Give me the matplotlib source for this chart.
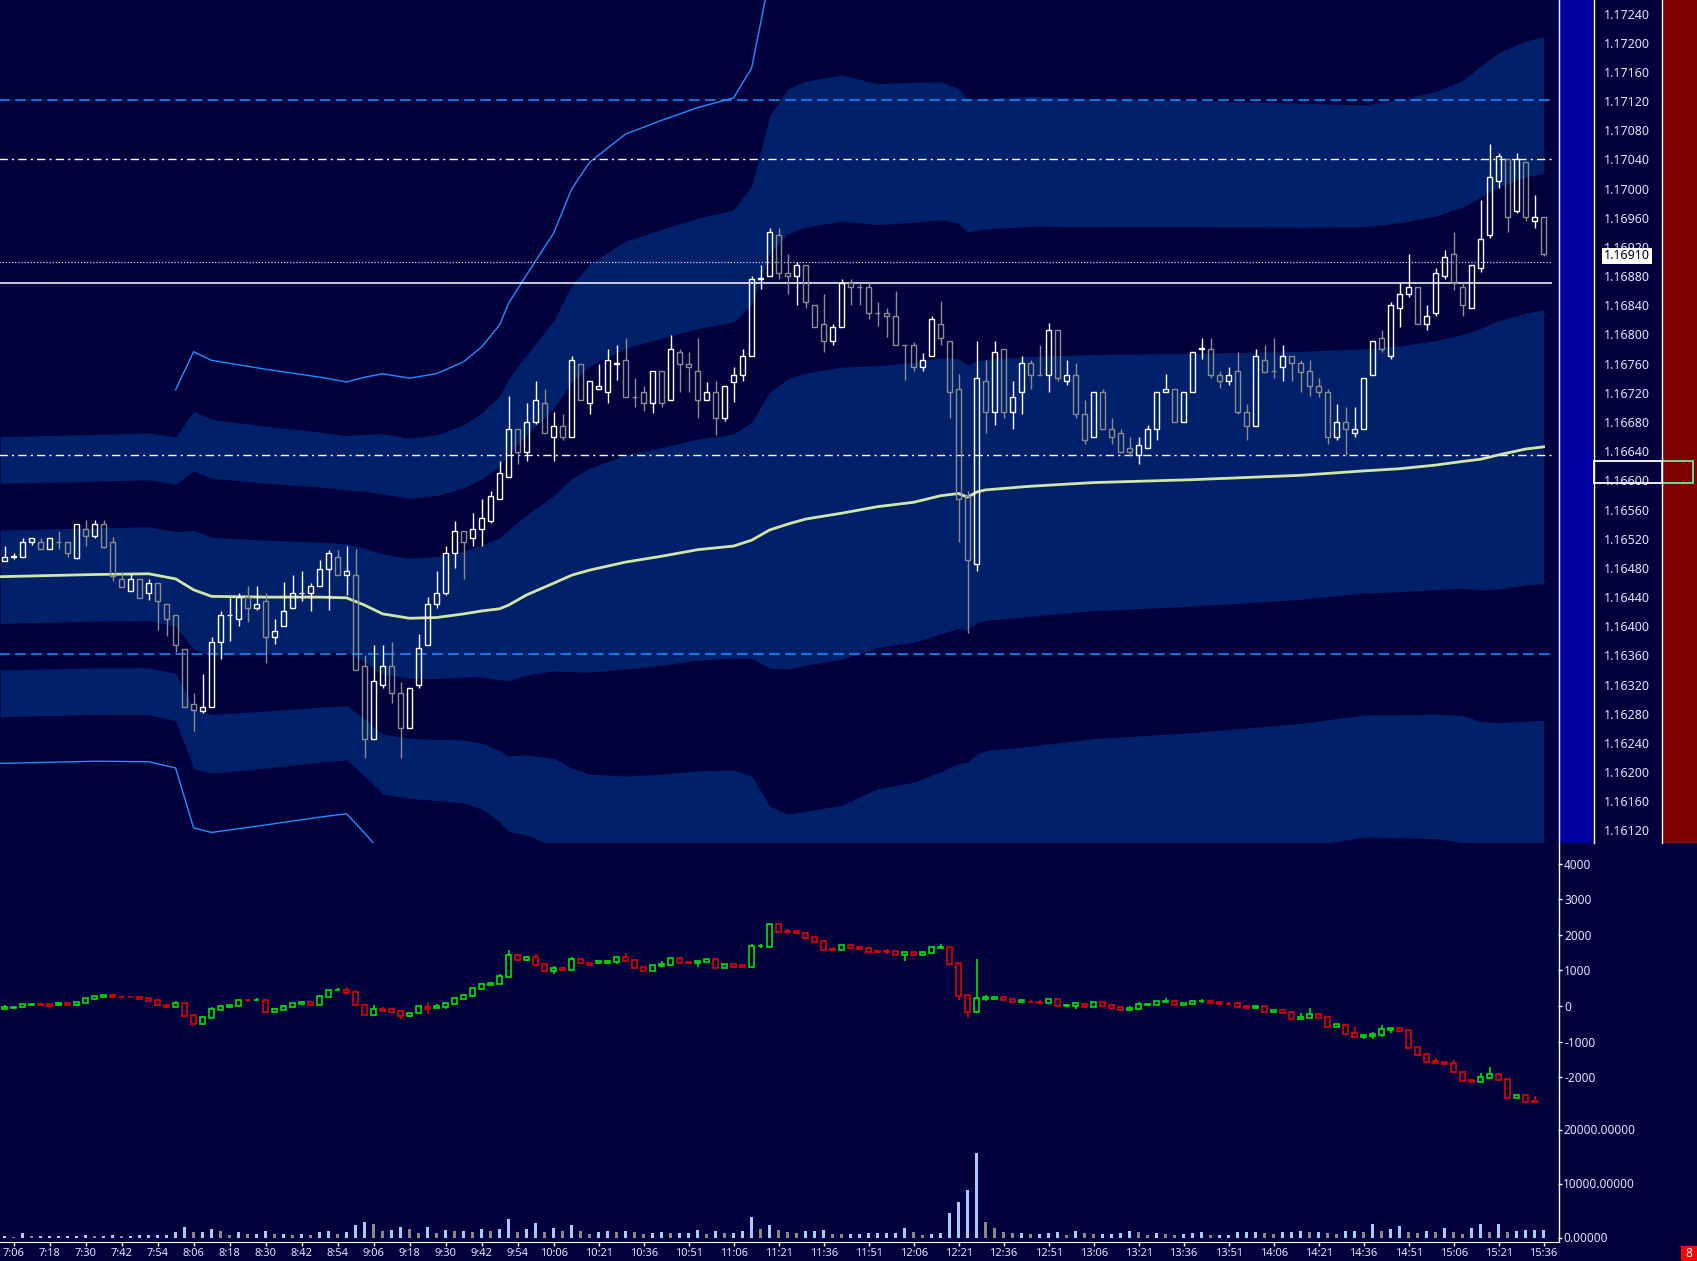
import numpy as np
import matplotlib
matplotlib.use("Agg")
from matplotlib import pyplot as plt
from matplotlib.patches import Rectangle
from matplotlib.lines import Line2D
from matplotlib.transforms import Bbox, TransformedBbox

plt.rcParams['font.family'] = ['Noto Sans', 'DejaVu Sans']

W, H = 1697, 1261
BG = '#00003c'
BAND = '#00206a'
TXT = '#dce6ff'

# 3 minute bars, bar 0 = 7:06 (bar -1 = 7:03)
bars = np.arange(-1, 171)

open_ = [1.16492, 1.16497, 1.16497, 1.16517, 1.16517, 1.16508, 1.16517, 1.16517, 1.16496, 1.16536,
         1.16526, 1.16542, 1.16517, 1.16467, 1.16451, 1.16467, 1.16447, 1.16462, 1.16432, 1.16417,
         1.16371, 1.16296, 1.16286, 1.16292, 1.16381, 1.16417, 1.16412, 1.16442, 1.16427, 1.16436,
         1.16387, 1.16402, 1.16427, 1.16447, 1.16447, 1.16457, 1.16481, 1.16497, 1.16472, 1.16472,
         1.16347, 1.16247, 1.16321, 1.16347, 1.16311, 1.16262, 1.16321, 1.16377, 1.16432, 1.16447,
         1.16502, 1.16532, 1.16523, 1.16536, 1.16547, 1.16577, 1.16607, 1.16672, 1.16641, 1.16682,
         1.16708, 1.16662, 1.16677, 1.16662, 1.16762, 1.16708, 1.16727, 1.16723, 1.16762, 1.16767,
         1.16717, 1.16723, 1.16708, 1.16752, 1.16712, 1.16778, 1.16762, 1.16752, 1.16712, 1.16723,
         1.16687, 1.16737, 1.16747, 1.16772, 1.16878, 1.16882, 1.16938, 1.16887, 1.16882, 1.16897,
         1.16842, 1.16817, 1.16793, 1.16812, 1.16872, 1.16867, 1.16867, 1.16832, 1.16832, 1.16827,
         1.16787, 1.16787, 1.16757, 1.16772, 1.16817, 1.16793, 1.16727, 1.16581, 1.16487, 1.16738,
         1.16696, 1.16782, 1.16696, 1.16723, 1.16763, 1.16747, 1.16747, 1.16808, 1.16738, 1.16747,
         1.16693, 1.16662, 1.16723, 1.16672, 1.16667, 1.16647, 1.16637, 1.16647, 1.16672, 1.16723,
         1.16727, 1.16682, 1.16723, 1.16782, 1.16782, 1.16747, 1.16738, 1.16752, 1.16696, 1.16677,
         1.16767, 1.16752, 1.16757, 1.16772, 1.16763, 1.16752, 1.16732, 1.16723, 1.16662, 1.16682,
         1.16667, 1.16672, 1.16747, 1.16797, 1.16772, 1.16838, 1.16857, 1.16867, 1.16817, 1.16832,
         1.16882, 1.16912, 1.16867, 1.16838, 1.16893, 1.16938, 1.17012, 1.17042, 1.16972, 1.17038,
         1.16958, 1.16963]
high = [1.16512, 1.16502, 1.16523, 1.16523, 1.16523, 1.16523, 1.16533, 1.16517, 1.16542, 1.16548,
        1.16548, 1.16548, 1.16524, 1.16477, 1.16473, 1.16467, 1.16467, 1.16462, 1.16432, 1.16417,
        1.16371, 1.16311, 1.16337, 1.16387, 1.16423, 1.16442, 1.16447, 1.16457, 1.16457, 1.16447,
        1.16412, 1.16463, 1.16472, 1.16478, 1.16462, 1.16493, 1.16507, 1.16507, 1.16512, 1.16508,
        1.16362, 1.16377, 1.16377, 1.16381, 1.16326, 1.16317, 1.16392, 1.16442, 1.16478, 1.16512,
        1.16547, 1.16532, 1.16557, 1.16576, 1.16587, 1.16629, 1.16718, 1.16672, 1.16708, 1.16738,
        1.16727, 1.16696, 1.16693, 1.16772, 1.16762, 1.16738, 1.16762, 1.16782, 1.16788, 1.16797,
        1.16742, 1.16732, 1.16752, 1.16752, 1.16802, 1.16782, 1.16778, 1.16797, 1.16737, 1.16738,
        1.16732, 1.16757, 1.16782, 1.16882, 1.16897, 1.16948, 1.16948, 1.16912, 1.16902, 1.16897,
        1.16842, 1.16858, 1.16817, 1.16878, 1.16878, 1.16872, 1.16872, 1.16847, 1.16838, 1.16862,
        1.16787, 1.16792, 1.16777, 1.16828, 1.16848, 1.16793, 1.16748, 1.16587, 1.16793, 1.16767,
        1.16793, 1.16782, 1.16738, 1.16772, 1.16767, 1.16787, 1.16818, 1.16808, 1.16767, 1.16763,
        1.16712, 1.16723, 1.16727, 1.16687, 1.16672, 1.16662, 1.16662, 1.16678, 1.16723, 1.16748,
        1.16727, 1.16723, 1.16778, 1.16797, 1.16797, 1.16752, 1.16757, 1.16778, 1.16707, 1.16782,
        1.16787, 1.16797, 1.16787, 1.16772, 1.16767, 1.16767, 1.16742, 1.16727, 1.16707, 1.16702,
        1.16702, 1.16742, 1.16793, 1.16808, 1.16847, 1.16872, 1.16912, 1.16867, 1.16842, 1.16893,
        1.16918, 1.16942, 1.16872, 1.16897, 1.16987, 1.17063, 1.17051, 1.17042, 1.17051, 1.17038,
        1.16993, 1.16963]
low = [1.16492, 1.16494, 1.16497, 1.16513, 1.16508, 1.16508, 1.16508, 1.16497, 1.16494, 1.16512,
       1.16523, 1.16509, 1.16464, 1.16456, 1.16451, 1.16441, 1.16438, 1.16397, 1.16388, 1.16367,
       1.16292, 1.16258, 1.16283, 1.16292, 1.16357, 1.16382, 1.16403, 1.16408, 1.16424, 1.16352,
       1.16378, 1.16402, 1.16427, 1.16437, 1.16423, 1.16457, 1.16424, 1.16472, 1.16445, 1.16342,
       1.16222, 1.16247, 1.16318, 1.16297, 1.16222, 1.16262, 1.16318, 1.16377, 1.16427, 1.16445,
       1.16482, 1.16467, 1.16512, 1.16512, 1.16543, 1.16577, 1.16607, 1.16624, 1.16628, 1.16679,
       1.16667, 1.16628, 1.16658, 1.16662, 1.16712, 1.16693, 1.16727, 1.16708, 1.16739, 1.16717,
       1.16703, 1.16697, 1.16694, 1.16703, 1.16712, 1.16723, 1.16723, 1.16688, 1.16712, 1.16664,
       1.16683, 1.16709, 1.16738, 1.16772, 1.16864, 1.16882, 1.16878, 1.16858, 1.16842, 1.16839,
       1.16812, 1.16778, 1.16788, 1.16812, 1.16842, 1.16842, 1.16823, 1.16813, 1.16798, 1.16787,
       1.16739, 1.16752, 1.16752, 1.16772, 1.16788, 1.16688, 1.16518, 1.16393, 1.16478, 1.16667,
       1.16678, 1.16688, 1.16673, 1.16693, 1.16727, 1.16747, 1.16723, 1.16738, 1.16733, 1.16688,
       1.16652, 1.16662, 1.16672, 1.16652, 1.16641, 1.16636, 1.16624, 1.16647, 1.16657, 1.16723,
       1.16682, 1.16682, 1.16723, 1.16768, 1.16743, 1.16728, 1.16733, 1.16693, 1.16657, 1.16677,
       1.16751, 1.16742, 1.16738, 1.16738, 1.16723, 1.16718, 1.16716, 1.16652, 1.16658, 1.16637,
       1.16662, 1.16672, 1.16747, 1.16778, 1.16768, 1.16812, 1.16853, 1.16817, 1.16808, 1.16828,
       1.16878, 1.16863, 1.16828, 1.16838, 1.16888, 1.16934, 1.17003, 1.16943, 1.16968, 1.16958,
       1.16948, 1.16909]
close = [1.16497, 1.16498, 1.16517, 1.16523, 1.16508, 1.16523, 1.16517, 1.16502, 1.16542, 1.16526,
         1.16542, 1.16511, 1.16471, 1.16456, 1.16467, 1.16441, 1.16462, 1.16436, 1.16412, 1.16377,
         1.16292, 1.16287, 1.16292, 1.16381, 1.16417, 1.16418, 1.16442, 1.16427, 1.16432, 1.16387,
         1.16396, 1.16423, 1.16447, 1.16448, 1.16457, 1.16481, 1.16502, 1.16472, 1.16478, 1.16342,
         1.16247, 1.16327, 1.16347, 1.16311, 1.16262, 1.16317, 1.16372, 1.16432, 1.16447, 1.16502,
         1.16532, 1.16517, 1.16536, 1.16551, 1.16581, 1.16612, 1.16672, 1.16641, 1.16682, 1.16712,
         1.16667, 1.16677, 1.16662, 1.16767, 1.16712, 1.16738, 1.16732, 1.16767, 1.16763, 1.16717,
         1.16717, 1.16708, 1.16752, 1.16708, 1.16782, 1.16762, 1.16757, 1.16712, 1.16723, 1.16687,
         1.16732, 1.16747, 1.16772, 1.16878, 1.16879, 1.16942, 1.16887, 1.16882, 1.16897, 1.16847,
         1.16812, 1.16793, 1.16812, 1.16872, 1.16867, 1.16867, 1.16832, 1.16832, 1.16827, 1.16787,
         1.16787, 1.16757, 1.16767, 1.16823, 1.16797, 1.16723, 1.16577, 1.16493, 1.16742, 1.16696,
         1.16778, 1.16696, 1.16717, 1.16763, 1.16747, 1.16747, 1.16808, 1.16742, 1.16747, 1.16693,
         1.16657, 1.16723, 1.16672, 1.16662, 1.16641, 1.16641, 1.16651, 1.16672, 1.16723, 1.16727,
         1.16682, 1.16723, 1.16778, 1.16783, 1.16747, 1.16738, 1.16747, 1.16696, 1.16677, 1.16772,
         1.16751, 1.16752, 1.16772, 1.16763, 1.16751, 1.16732, 1.16723, 1.16662, 1.16682, 1.16672,
         1.16672, 1.16742, 1.16793, 1.16782, 1.16842, 1.16857, 1.16867, 1.16817, 1.16827, 1.16887,
         1.16908, 1.16872, 1.16842, 1.16897, 1.16933, 1.17018, 1.17047, 1.16963, 1.17042, 1.16963,
         1.16963, 1.16912]

# cumulative delta candles
nan = np.nan
delta_open = [-85, -45, -38, 40, 66, 56, 19, 75, 38, 94,
              207, 263, 300, 250, 250, 244, 216, 169, 19, -19,
              85, -254, -498, -329, -103, -19, 10, 169, 160, 169,
              -160, -103, -19, 66, 103, 38, 263, 451, 451, 385,
              19, -244, -85, -94, -150, -272, -188, -19, -66, -19,
              66, 207, 291, 488, 592, 629, 826, 1427, 1305, 1371,
              1174, 995, 1070, 1005, 1315, 1211, 1202, 1211, 1239, 1371,
              1286, 1098, 995, 1127, 1164, 1343, 1230, 1221, 1249, 1315,
              1080, 1174, 1155, 1108, 1681, 1671, 2300, 2113, 2103, 2047,
              1934, 1822, 1606, 1587, 1709, 1653, 1624, 1540, 1540, 1540,
              1446, 1521, 1446, 1503, 1643, 1653, 1202, 300, -160, 188,
              197, 244, 188, 122, 122, 122, 85, 188, 10, 0,
              56, -19, 103, 28, -28, -113, -75, 28, 28, 122,
              141, 28, 56, 141, 141, 113, 66, 85, -10, -47,
              0, -169, -103, -178, -366, -329, -226, -310, -582, -535,
              -770, -864, -845, -808, -676, -620, -676, -1164, -1352, -1549,
              -1577, -1615, -1869, -2084, -2131, -2019, -1915, -2066, -2582, -2516,
              -2676, nan]
delta_high = [28, -38, 47, 47, 85, 56, 75, 75, 103, 225,
              272, 300, 300, 282, 250, 244, 216, 169, 19, 141,
              85, -226, -282, -28, 28, 28, 169, 207, 225, 197,
              -47, 28, 75, 141, 103, 272, 451, 507, 526, 451,
              19, 19, -28, -94, -150, -188, 0, 113, 47, 75,
              216, 300, 498, 638, 676, 902, 1577, 1427, 1408, 1465,
              1174, 1117, 1089, 1371, 1315, 1211, 1255, 1296, 1371, 1484,
              1286, 1098, 1145, 1258, 1343, 1343, 1230, 1258, 1315, 1315,
              1174, 1174, 1155, 1737, 1737, 2300, 2300, 2160, 2103, 2047,
              1934, 1822, 1662, 1709, 1709, 1653, 1624, 1568, 1597, 1540,
              1521, 1521, 1521, 1653, 1747, 1653, 1202, 300, 1324, 300,
              254, 244, 188, 169, 169, 169, 197, 188, 56, 75,
              56, 103, 103, 28, -28, 0, 113, 56, 141, 216,
              141, 85, 150, 197, 141, 113, 103, 85, -10, 0,
              0, -103, -103, -178, -207, -56, -226, -310, -507, -535,
              -582, -817, -732, -545, -620, -610, -676, -1164, -1352, -1474,
              -1577, -1531, -1869, -2084, -1887, -1718, -1915, -2066, -2507, -2516,
              -2535, nan]
delta_low = [-85, -45, -38, 40, 19, 10, 19, 38, 38, 94,
             207, 263, 244, 244, 244, 197, 150, 19, -38, -19,
             -300, -498, -498, -329, -103, -19, 10, 122, 160, -160,
             -160, -103, -19, 66, 38, 38, 263, 451, 376, 38,
             -244, -244, -141, -160, -357, -300, -188, -216, -66, -75,
             66, 207, 291, 488, 592, 629, 826, 1277, 1277, 1164,
             995, 911, 1005, 1005, 1202, 1160, 1202, 1174, 1192, 1268,
             1080, 995, 995, 1098, 1164, 1221, 1202, 1108, 1249, 1080,
             1080, 1108, 1098, 1108, 1643, 1671, 2094, 2066, 2047, 1925,
             1812, 1587, 1587, 1587, 1643, 1606, 1531, 1503, 1465, 1446,
             1277, 1446, 1446, 1503, 1643, 1192, 169, -329, -188, 150,
             197, 178, 122, 122, 103, 94, 85, 10, 10, -75,
             -19, -19, 10, -47, -103, -141, -122, 28, 28, 122,
             28, 28, 56, 85, 85, 56, 19, -19, -94, -47,
             -160, -169, -197, -385, -385, -329, -329, -582, -582, -779,
             -864, -920, -920, -864, -751, -695, -1174, -1371, -1568, -1606,
             -1643, -1869, -2103, -2131, -2131, -2019, -2075, -2582, -2582, -2695,
             -2695, nan]
delta_close = [-28, -38, 47, 47, 19, 10, 75, 38, 103, 225,
               272, 300, 244, 244, 244, 197, 150, 19, -19, 85,
               -272, -498, -310, -85, 0, 28, 169, 160, 169, -160,
               -85, 0, 75, 122, 38, 272, 451, 461, 376, 38,
               -244, -94, -141, -160, -272, -188, 0, -85, 0, 75,
               216, 300, 498, 610, 648, 836, 1427, 1305, 1371, 1164,
               995, 1061, 1005, 1315, 1202, 1160, 1255, 1258, 1371, 1268,
               1080, 995, 1145, 1183, 1343, 1221, 1202, 1258, 1315, 1080,
               1174, 1108, 1098, 1681, 1690, 2300, 2094, 2094, 2047, 1925,
               1812, 1587, 1587, 1709, 1643, 1606, 1531, 1531, 1531, 1446,
               1521, 1446, 1521, 1653, 1653, 1192, 291, -160, 225, 244,
               254, 178, 122, 169, 103, 94, 197, 10, 38, 75,
               -19, 103, 10, -47, -103, -47, 47, 56, 141, 141,
               28, 85, 150, 150, 85, 56, 56, -19, -66, 0,
               -160, -103, -197, -366, -300, -226, -329, -582, -507, -779,
               -864, -817, -789, -657, -620, -695, -1174, -1371, -1568, -1606,
               -1643, -1869, -2103, -2131, -2009, -1915, -2075, -2582, -2507, -2695,
               -2695, nan]

volume = [370, 247, 926, 370, 370, 370, 370, 370, 432, 555,
          370, 432, 555, 432, 432, 555, 555, 617, 617, 1111,
          2036, 1172, 1172, 1604, 1296, 617, 1111, 740, 740, 1234,
          740, 740, 617, 740, 617, 1111, 1234, 740, 1111, 2406,
          2962, 2591, 1296, 1419, 2036, 1604, 926, 2036, 926, 1419,
          1234, 1234, 1111, 1666, 1296, 1666, 3455, 1111, 1728, 2777,
          1111, 1789, 1296, 2406, 1296, 740, 1111, 1296, 1111, 1234,
          1111, 740, 987, 1111, 926, 926, 926, 1481, 740, 1234,
          926, 926, 1234, 3887, 1666, 2468, 1419, 1049, 987, 1234,
          1234, 1481, 802, 740, 740, 740, 926, 926, 926, 926,
          1851, 1111, 617, 740, 926, 4628, 6700, 8800, 15800, 2962,
          1851, 1111, 926, 926, 740, 740, 926, 1111, 494, 1296,
          926, 740, 740, 740, 926, 1296, 1111, 617, 926, 740,
          617, 740, 926, 1111, 494, 617, 617, 1111, 1111, 1111,
          926, 740, 1111, 1111, 1296, 1111, 1111, 926, 740, 1357,
          1357, 1111, 2591, 1296, 1666, 2283, 1111, 926, 1296, 1111,
          1851, 1172, 740, 1851, 2591, 1111, 2591, 1111, 1296, 1481,
          1481, 1481]

# session VWAP and its standard deviation, read at knots
vwap_bar = [-1.5, 9, 15, 18, 20, 22, 28, 34, 37,
            39, 41, 44, 47, 50, 52, 54, 55, 57, 60,
            62, 64, 68, 72, 76, 80, 82, 84, 86, 88,
            92, 96, 100, 103, 105, 106, 107, 108, 113, 120,
            131, 143, 150, 154, 158, 161, 163, 165, 168, 170]
vwap = [1.16470, 1.16473, 1.16474, 1.16467, 1.16452, 1.16443, 1.16442, 1.16442, 1.16441,
        1.16431, 1.16419, 1.16413, 1.16414, 1.16419, 1.16423, 1.16426, 1.16431, 1.16445, 1.16461,
        1.16472, 1.16479, 1.16490, 1.16498, 1.16507, 1.16512, 1.16520, 1.16534, 1.16542, 1.16549,
        1.16557, 1.16566, 1.16572, 1.16581, 1.16584, 1.16579, 1.16586, 1.16589, 1.16594, 1.16599,
        1.16603, 1.16609, 1.16615, 1.16618, 1.16623, 1.16628, 1.16631, 1.16637, 1.16645, 1.16648]
vwap_sd = [0.000640, 0.000640, 0.000644, 0.000648, 0.000816, 0.000809, 0.000781, 0.000754, 0.000740,
           0.000781, 0.000823, 0.000823, 0.000836, 0.000864, 0.000905, 0.000973, 0.001035, 0.001097, 0.001200,
           0.001323, 0.001398, 0.001467, 0.001494, 0.001515, 0.001536, 0.001618, 0.001892, 0.001988, 0.002002,
           0.002002, 0.001933, 0.001919, 0.001892, 0.001851, 0.001817, 0.001796, 0.001789, 0.001782, 0.001755,
           0.001734, 0.001700, 0.001673, 0.001686, 0.001707, 0.001741, 0.001796, 0.001837, 0.001865, 0.001874]
upper_line_from = 18

time_ticks = [0, 4, 8, 12, 16, 20, 24, 28, 32, 36, 40, 44, 48, 52, 56, 60,
              65, 70, 75, 80, 85, 90, 95, 100, 105, 110, 115, 120, 125, 130,
              135, 140, 145, 150, 155, 160, 165, 170]
time_labels = ['7:06', '7:18', '7:30', '7:42', '7:54', '8:06', '8:18', '8:30', '8:42', '8:54',
               '9:06', '9:18', '9:30', '9:42', '9:54', '10:06', '10:21', '10:36', '10:51', '11:06',
               '11:21', '11:36', '11:51', '12:06', '12:21', '12:36', '12:51', '13:06', '13:21', '13:36',
               '13:51', '14:06', '14:21', '14:36', '14:51', '15:06', '15:21', '15:36']
price_ticks = [1.16120, 1.16160, 1.16200, 1.16240, 1.16280, 1.16320, 1.16360, 1.16400, 1.16440,
               1.16480, 1.16520, 1.16560, 1.16600, 1.16640, 1.16680, 1.16720, 1.16760, 1.16800,
               1.16840, 1.16880, 1.16920, 1.16960, 1.17000, 1.17040, 1.17080, 1.17120, 1.17160,
               1.17200, 1.17240]
delta_ticks = [-2000, -1000, 0, 1000, 2000, 3000, 4000]
vol_ticks = [0, 10000, 20000]

levels_dashed = [1.17124, 1.16364]
levels_dashdot = [1.17042, 1.16637]
level_solid = 1.16872
level_dotted = 1.16902
last_price = 1.16910
marker_lo, marker_hi = 1.16599, 1.16628

XLIM = (-13.6 / 9, (1558 - 13.6) / 9)

fig = plt.figure(figsize=(W / 100, H / 100), dpi=100, facecolor=BG)


def px_axes(x0, y0, x1, y1):
    a = fig.add_axes([x0 / W, 1 - y1 / H, (x1 - x0) / W, (y1 - y0) / H])
    a.set_facecolor(BG)
    for s in a.spines.values():
        s.set_visible(False)
    a.set_xticks([])
    a.set_yticks([])
    a.set_xlim(*XLIM)
    return a


def candles(ax, o, h, l, c, up_col, dn_col, width, lw):
    o, h, l, c = (np.asarray(v, dtype=float) for v in (o, h, l, c))
    ok = ~np.isnan(o)
    x = bars[ok]
    o, h, l, c = o[ok], h[ok], l[ok], c[ok]
    col = [up_col if cc > oo else dn_col for oo, cc in zip(o, c)]
    top = np.maximum(o, c)
    bot = np.minimum(o, c)
    ax.vlines(x, top, h, colors=col, lw=lw, zorder=4)
    ax.vlines(x, l, bot, colors=col, lw=lw, zorder=4)
    ax.bar(x, top - bot, bottom=bot, width=width, fill=False,
           edgecolor=col, linewidth=lw, zorder=5)


# ---------------- price panel
ax = px_axes(0, 0, 1558, 843)
ax.set_ylim(1.161049, 1.172606)

vb = np.array(vwap_bar)
v = np.array(vwap)
s = np.array(vwap_sd)
ax.fill_between(vb, v - s, v + s, color=BAND, lw=0, zorder=1)
ax.fill_between(vb, v + 2 * s, v + 3 * s, color=BAND, lw=0, zorder=1)
ax.fill_between(vb, v - 3 * s, v - 2 * s, color=BAND, lw=0, zorder=1)
ax.plot(vb, np.where(vb >= upper_line_from, v + 4 * s, np.nan), color='#1e90ff', lw=1.0, zorder=2)
ax.plot(vb, v - 4 * s, color='#1e90ff', lw=1.0, zorder=2)
ax.plot(vb, v, color='#cfe8a6', lw=2.0, zorder=3)

xl, xr = -1.6, 170.9
ax.hlines(levels_dashed, xl, xr, colors='#1e90ff', lw=1.1, linestyles=[(0, (7, 3.5))], zorder=2)
ax.hlines(levels_dashdot, xl, xr, colors='white', lw=1.0, linestyles=[(0, (6, 3, 1.5, 3))], zorder=2)
ax.hlines([level_solid], xl, xr, colors='white', lw=1.1, zorder=2)
ax.hlines([level_dotted], xl, xr, colors='#c8d2ff', lw=0.9, linestyles=[(0, (1, 1.5))], zorder=2)

candles(ax, open_, high, low, close, 'white', '#8c8c8c', 0.5, 1.0)

ytr = ax.get_yaxis_transform()
lab_x = 1627 / 1558
for p in price_ticks:
    ax.text(lab_x, p, f'{p:.5f}', transform=ytr, ha='center', va='center',
            color=TXT, fontsize=9, clip_on=False)
ax.text(lab_x, last_price, f'{last_price:.5f}', transform=ytr, ha='center', va='center',
        color='black', fontsize=9, clip_on=False, zorder=10,
        bbox=dict(facecolor='white', edgecolor='none', pad=1.2))
ax.add_patch(Rectangle((1594 / 1558, marker_lo), 68 / 1558, marker_hi - marker_lo, transform=ytr,
                       fill=False, edgecolor='white', lw=1.3, clip_on=False, zorder=11))
ax.add_patch(Rectangle((1662 / 1558, marker_lo), 31 / 1558, marker_hi - marker_lo, transform=ytr,
                       fill=False, edgecolor='#66eaa8', lw=1.3, clip_on=False, zorder=11))

# ---------------- cumulative delta panel
axd = px_axes(0, 843, 1558, 1105)
axd.set_ylim(-2788.7, 4591.5)
candles(axd, delta_open, delta_high, delta_low, delta_close, '#00e400', '#e00000', 0.6, 1.2)
axd.yaxis.tick_right()
axd.set_yticks(delta_ticks, [str(t) for t in delta_ticks])
axd.tick_params(axis='y', length=3, width=1, color='white', labelcolor=TXT,
                labelsize=8.5, pad=1.5)

# ---------------- volume panel
axv = px_axes(0, 1105, 1558, 1242)
axv.set_ylim(-740.7, 24630)
vol = np.array(volume)
prev = np.concatenate([[0], vol[:-1]])
vcol = ['#a8caff' if a >= b else '#8a8a8a' for a, b in zip(vol, prev)]
axv.bar(bars, vol, width=0.4, color=vcol, zorder=3)
axv.yaxis.tick_right()
axv.set_yticks(vol_ticks)
axv.tick_params(axis='y', length=3, width=1, color='white', labelright=False)
clip = TransformedBbox(Bbox([[1558 / W, (H - 1242) / H], [1, 1]]), fig.transFigure)
for t in vol_ticks:
    tx = axv.text(1563 / 1558, t, f'{t:.5f}', transform=axv.get_yaxis_transform(),
                  ha='left', va='center', color=TXT, fontsize=8.5, clip_on=True)
    tx.set_clip_box(clip)
axv.spines['bottom'].set_visible(True)
axv.spines['bottom'].set_color('white')
axv.set_xticks(time_ticks, time_labels)
axv.tick_params(axis='x', length=3, width=1, color='white', labelcolor=TXT,
                labelsize=8, pad=1.5)

# ---------------- right hand strips and frame lines
fig.add_artist(Rectangle((1558 / W, 1 - 843 / H), 35 / W, 843 / H, transform=fig.transFigure,
                         facecolor='#0000a0', edgecolor='none', zorder=-1))
fig.add_artist(Rectangle((1662 / W, 1 - 843 / H), 35 / W, 843 / H, transform=fig.transFigure,
                         facecolor='#800000', edgecolor='none', zorder=-1))
fig.add_artist(Line2D([1558.5 / W] * 2, [1 - 1242 / H, 1], transform=fig.transFigure,
                      color='white', lw=1, zorder=20))
for xp in (1593.5, 1662):
    fig.add_artist(Line2D([xp / W] * 2, [1 - 843 / H, 1], transform=fig.transFigure,
                          color='white', lw=1, zorder=20))
fig.add_artist(Rectangle((1681 / W, 0), 16 / W, 15 / H, transform=fig.transFigure,
                         facecolor='#ff0000', edgecolor='none', zorder=20))
fig.text(1689 / W, 7.5 / H, '8', color='white', fontsize=8.5, ha='center', va='center', zorder=21)

fig.savefig('out.png', dpi=100, facecolor=BG)
